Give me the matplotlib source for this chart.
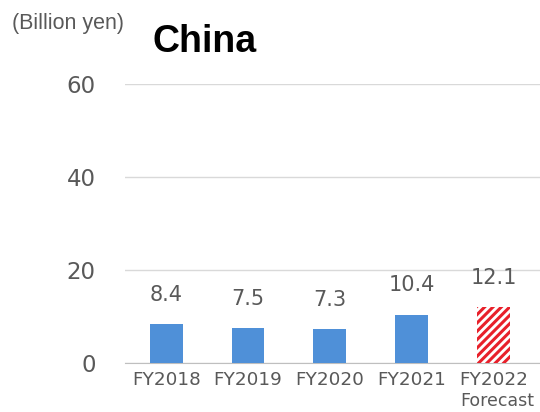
import matplotlib
matplotlib.use("Agg")
import matplotlib.pyplot as plt

# China sales by fiscal year (billion yen); last year is a forecast
years = ["FY2018", "FY2019", "FY2020", "FY2021", "FY2022"]
sales = [8.4, 7.5, 7.3, 10.4, 12.1]
value_labels = ["8.4", "7.5", "7.3", "10.4", "12.1"]
y_ticks = [0, 20, 40, 60]

blue = "#4f90d8"
red = "#e8202a"
gray = "#595959"

plt.rcParams["hatch.linewidth"] = 2.2
plt.rcParams["font.family"] = "DejaVu Sans"

fig = plt.figure(figsize=(5.4, 4.12), dpi=100)
ax = fig.add_axes([0.231, 0.119, 0.769, 0.677])

x = list(range(len(years)))
ax.bar(x[:-1], sales[:-1], width=0.40, color=blue, zorder=3)
ax.bar(x[-1], sales[-1], width=0.40, facecolor="white", edgecolor=red,
       hatch="////", linewidth=0, zorder=3)

for xi, v, lab in zip(x, sales, value_labels):
    ax.annotate(lab, (xi, v), xytext=(0, 21), textcoords="offset points",
                ha="center", va="center", fontsize=15, color=gray)

ax.set_xlim(-0.508, 4.57)
ax.set_ylim(0, 60)
ax.set_yticks(y_ticks)
ax.set_yticklabels([str(t) for t in y_ticks], fontsize=16.5, color=gray)
ax.set_xticks(x)
ax.set_xticklabels(years, fontsize=13.2, color=gray)
ax.tick_params(axis="both", length=0)
ax.tick_params(axis="y", pad=21)
ax.tick_params(axis="x", pad=6)

ax.grid(axis="y", color="#d9d9d9", linewidth=1, zorder=0)
for side in ["top", "right", "left"]:
    ax.spines[side].set_visible(False)
ax.spines["bottom"].set_color("#bfbfbf")

fig.text(0.921, 0.005, "Forecast", fontsize=12.5, color=gray, ha="center",
         va="bottom")
fig.text(0.022, 0.93, "(Billion yen)", fontsize=15.5, color=gray,
         family="Liberation Sans")
fig.text(0.282, 0.875, "China", fontsize=27, weight="bold", color="black",
         family="Liberation Sans")

fig.savefig("out.png", dpi=100)
